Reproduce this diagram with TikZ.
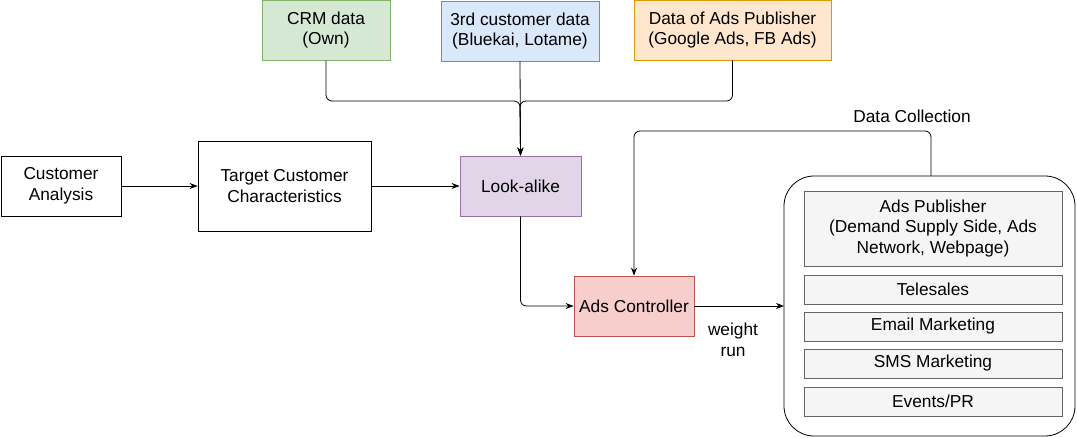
\documentclass[tikz,border=0pt]{standalone}
\usepackage{fontspec}
\setmainfont{Liberation Sans}
\usepackage{tikz}
\usetikzlibrary{arrows.meta}

\definecolor{crmfill}{HTML}{D5E8D4}\definecolor{crmline}{HTML}{82B366}
\definecolor{thirdfill}{HTML}{DAE8FC}\definecolor{thirdline}{HTML}{6C8EBF}
\definecolor{pubfill}{HTML}{FFE6CC}\definecolor{publine}{HTML}{D79B00}
\definecolor{lookfill}{HTML}{E1D5E7}\definecolor{lookline}{HTML}{9673A6}
\definecolor{ctrlfill}{HTML}{F8CECC}\definecolor{ctrlline}{HTML}{B85450}
\definecolor{chanfill}{HTML}{F5F5F5}\definecolor{chanline}{HTML}{666666}

\tikzset{
  box/.style={draw, line width=0.8pt, align=center, inner sep=0pt,
    font=\fontsize{17.3}{20.5}\selectfont},
  chan/.style={box, fill=chanfill, draw=chanline, minimum width=258pt},
  link/.style={line width=0.8pt, -{Stealth[length=8pt,width=6pt]}, rounded corners=6pt},
}

\begin{document}
\begin{tikzpicture}[x=1pt, y=-1pt]
			\useasboundingbox (0,0) rectangle (1077,437);
			%%%%%%%%%%%%%%%%%%%%%%%%%%%%%%%%
			\node[box, fill=crmfill, draw=crmline, minimum width=128pt, minimum height=60pt] (crm) at (326,30) {CRM data\\(Own)};
			\node[box, fill=thirdfill, draw=thirdline, minimum width=158pt, minimum height=60pt] (third) at (520,31) {3rd customer data\\(Bluekai, Lotame)};
			\node[box, fill=pubfill, draw=publine, minimum width=197pt, minimum height=60pt] (pubdata) at (732.5,30) {Data of Ads Publisher\\(Google Ads, FB Ads)};
			\coordinate (merge) at (520,101);
			%%%%%%%%%%%%%%%%%%%%%%%%%%%%%%%%
			\node[box, minimum width=120pt, minimum height=60pt] (analysis) at (61,186) {Customer\\Analysis};
			\node[box, minimum width=173pt, minimum height=90pt] (target) at (284.5,186) {Target Customer\\Characteristics};
			\node[box, fill=lookfill, draw=lookline, minimum width=121pt, minimum height=60pt] (look) at (520.5,186) {Look-alike};
			\node[box, fill=ctrlfill, draw=ctrlline, minimum width=120pt, minimum height=60pt] (ctrl) at (634,306) {Ads Controller};
			\node[font=\fontsize{17.3}{20.5}\selectfont, align=center] (weight) at (733,340) {weight\\run};
			%%%%%%%%%%%%%%%%%%%%%%%%%%%%%%%%
			\draw[line width=0.8pt, rounded corners=30pt] (784,176) rectangle (1075,436);
			\coordinate (outer) at (931,176);
			\node[chan, minimum height=75pt] (adspub) at (933,228.5) {Ads Publisher\\(Demand Supply Side, Ads\\Network, Webpage)};
			\node[chan, minimum height=29pt] (tele) at (933,289.5) {Telesales};
			\node[chan, minimum height=29pt] (email) at (933,326.5) {Email Marketing};
			\node[chan, minimum height=29pt] (sms) at (933,363.5) {SMS Marketing};
			\node[chan, minimum height=29pt] (events) at (933,401.5) {Events/PR};
			\coordinate (channels) at (784,306);
			\coordinate (collect) at (931,131);
			\node[font=\fontsize{17.3}{20.5}\selectfont] (dclabel) at (912,116) {Data Collection};
			%%%%%%%%%%%%%%%%%%%%%%%%%%%%%
			\draw[link] (crm.south) -- (crm.south |- merge) -- (merge) -- (look.north);
			\draw[link] (third.south) -- (look.north);
			\draw[link] (pubdata.south) -- (pubdata.south |- merge) -- (merge) -- (look.north);
			\draw[link] (analysis) -- (target);
			\draw[link] (target) -- (look);
			\draw[link] (look.south) |- (ctrl.west);
			\draw[link] (ctrl) -- (channels);
			\draw[link] (outer) -- (collect) -- (ctrl.north |- collect) -- (ctrl.north);
		\end{tikzpicture}
\end{document}
